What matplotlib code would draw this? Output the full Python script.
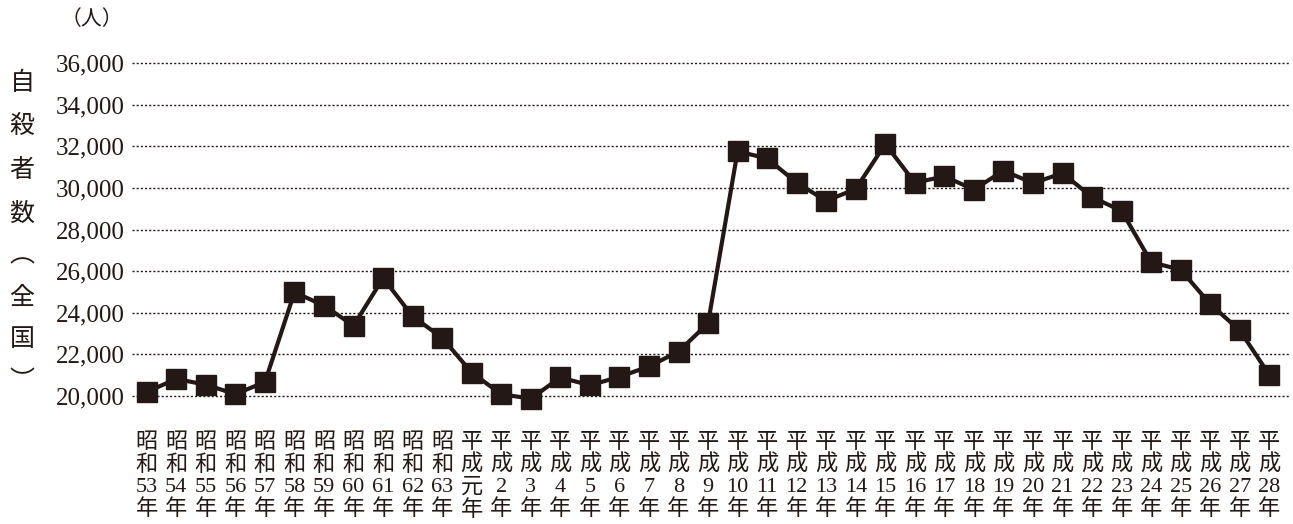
import matplotlib
matplotlib.use("Agg")
import matplotlib.pyplot as plt
from matplotlib.ticker import FuncFormatter

plt.rcParams['font.family'] = ['Liberation Serif', 'Noto Sans CJK JP', 'DejaVu Sans']

# 年次ラベル（元号・年）
eras = ['昭'] * 11 + ['平'] * 28
era2 = ['和'] * 11 + ['成'] * 28
years = ['53', '54', '55', '56', '57', '58', '59', '60', '61', '62', '63',
         '元', '2', '3', '4', '5', '6', '7', '8', '9', '10', '11', '12', '13',
         '14', '15', '16', '17', '18', '19', '20', '21', '22', '23', '24', '25',
         '26', '27', '28']

# 自殺者数（全国）
suicides = [20199, 20823, 20542, 20096, 20668, 24985, 24344, 23383, 25667,
            23831, 22795, 21125, 20088, 19875, 20893, 20516, 20923, 21420,
            22138, 23494, 31755, 31413, 30251, 29375, 29949, 32109, 30247,
            30553, 29921, 30827, 30229, 30707, 29554, 28896, 26433, 26063,
            24417, 23152, 21017]

yticks = list(range(20000, 36001, 2000))

ink = '#231815'
W, H = 1293, 524
fig = plt.figure(figsize=(W / 100, H / 100), dpi=100)
ax = fig.add_axes([132 / W, 1 - 400.2 / H, (1290 - 132) / W, 339.3 / H])

x = list(range(len(years)))
ax.plot(x, suicides, color=ink, lw=3, marker='s', ms=15,
        markerfacecolor=ink, markeredgecolor=ink, clip_on=False, zorder=3)

ax.set_ylim(19800, 36100)
ax.set_xlim(-0.5, 38.7)
ax.set_yticks(yticks)
ax.yaxis.set_major_formatter(FuncFormatter(lambda v, p: f'{int(v):,}'))
ax.grid(axis='y', color=ink, linestyle=(0, (1.5, 1.5)), lw=1)
ax.set_axisbelow(True)

labels = [f'{a}\n{b}\n{c}\n年' for a, b, c in zip(eras, era2, years)]
ax.set_xticks(x)
ax.set_xticklabels(labels, fontsize=16, linespacing=1.15, color=ink)
ax.tick_params(axis='x', length=0, pad=24)
ax.tick_params(axis='y', length=0, pad=5, labelsize=18, labelcolor=ink)

for s in ax.spines.values():
    s.set_visible(False)

fig.text(92 / W, 1 - 20 / H, '（人）', fontsize=15, color=ink,
         ha='center', va='center')
fig.text(22 / W, 1 - 232 / H, '\n'.join('自殺者数︵全国︶'), fontsize=18,
         color=ink, ha='center', va='center', linespacing=2.15)

fig.savefig('out.png', dpi=100)
